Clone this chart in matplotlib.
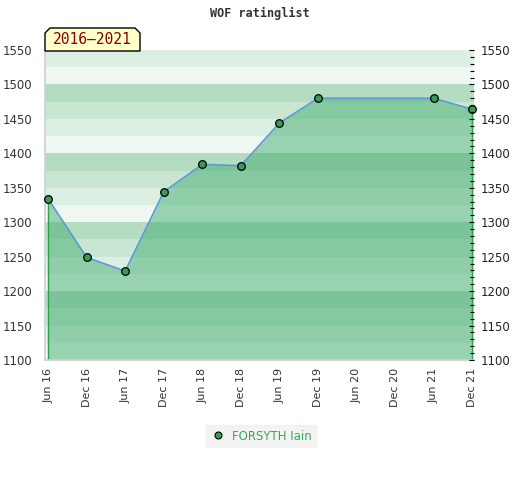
import numpy as np
import matplotlib
matplotlib.use('Agg')
import matplotlib.pyplot as plt
from matplotlib.patches import Polygon
from matplotlib.lines import Line2D

# donnees
periodes = ['Jun 16', 'Dec 16', 'Jun 17', 'Dec 17', 'Jun 18', 'Dec 18',
            'Jun 19', 'Dec 19', 'Jun 20', 'Dec 20', 'Jun 21', 'Dec 21']
elo = [1334, 1249, 1229, 1344, 1384, 1382, 1444, 1480, 1480, 1480, 1480, 1464]
avecPoint = [True, True, True, True, True, True, True, True, False, False, True, True]
joueur = 'FORSYTH Iain'
titre = 'WOF ratinglist'
periode = '2016\u20132021'
yTicks = [1100, 1150, 1200, 1250, 1300, 1350, 1400, 1450, 1500, 1550]

# couleurs des bandes (du bas vers le haut dans chaque bloc de 100)
bandes = ['#eef7f1', '#dcefe3', '#c8e6d2', '#b3dcc1']

fig = plt.figure(figsize=(5.2, 4.8), dpi=100)
ax = fig.add_axes([45/520, 1-360/480, 429/520, 310/480])

x = np.arange(len(periodes))
ymin, ymax = 1100, 1550

for b in range(ymin, ymax, 25):
    k = ((b - 1000) // 25) % 4
    ax.axhspan(b, b + 25, color=bandes[k], lw=0, zorder=0)

# zone remplie sous la courbe
ax.fill_between(x, elo, ymin, color='#3daa6b', alpha=0.48, lw=0, zorder=1)
ax.vlines([x[0], x[-1]], ymin, [elo[0], elo[-1]], color='#2ea04f', lw=1.0, zorder=2)
ax.plot(x, elo, color='#5b9bd5', lw=1.2, zorder=3)
xp = [x[i] for i in range(len(x)) if avecPoint[i]]
yp = [elo[i] for i in range(len(x)) if avecPoint[i]]
ax.plot(xp, yp, 'o', ms=5.5, mfc='#3a9a5a', mec='black', mew=0.9, zorder=4, clip_on=False)

ax.set_xlim(-0.08, 11.05)
ax.set_ylim(ymin, ymax)
ax.set_xticks(x)
ax.set_xticklabels(periodes, rotation=90, fontsize=8, color='#333333')
ax.set_yticks(yTicks)
ax.tick_params(axis='y', length=0, labelsize=8.5, labelcolor='#333333', pad=9)
ax.tick_params(axis='x', length=0, pad=6)

for s in ['top', 'right']:
    ax.spines[s].set_visible(False)
for s in ['left', 'bottom']:
    ax.spines[s].set_color('#d0d0d0')
    ax.spines[s].set_linewidth(1.2)

ax2 = ax.twinx()
ax2.set_ylim(ymin, ymax)
ax2.set_yticks(yTicks)
ax2.set_yticks(np.arange(ymin, ymax + 1, 10), minor=True)
ax2.tick_params(axis='y', which='major', direction='in', length=3.5, width=0.8,
                labelsize=8.5, labelcolor='#222222', pad=5)
ax2.tick_params(axis='y', which='minor', direction='in', length=3, width=0.8)
for s in ax2.spines.values():
    s.set_visible(False)

# titre
fig.text(0.5, 1-13/480, titre, ha='center', va='center', fontsize=8.5,
         family='DejaVu Sans Mono', weight='bold', color='#333333')

# etiquette de la periode
x0, x1 = 45/520, 140/520
y0, y1 = 1-51/480, 1-28/480
c = 5/520
cy = 5/480
etiquette = Polygon([[x0, y0], [x0, y1-cy], [x0+c, y1], [x1-c, y1], [x1, y1-cy], [x1, y0]],
                    closed=True, fc='#ffffcc', ec='black', lw=1, transform=fig.transFigure)
fig.patches.append(etiquette)
fig.text((x0+x1)/2, (y0+y1)/2, periode, ha='center', va='center', fontsize=10.5,
         family='DejaVu Sans Mono', color='#8b0000')

# legende
poignee = Line2D([], [], ls='none', marker='o', ms=5, mfc='#3a9a5a', mec='black', mew=0.8)
leg = fig.legend([poignee], [joueur], loc='center', bbox_to_anchor=(261/520, 1-436/480),
                 frameon=True, fontsize=8.5, handletextpad=0.6, borderpad=0.35,
                 handlelength=1.2, fancybox=False)
leg.get_frame().set_facecolor('#f0f0f0')
leg.get_frame().set_edgecolor('#f0f0f0')
for t in leg.get_texts():
    t.set_color('#3aa55a')

fig.savefig('out.png', dpi=100)
